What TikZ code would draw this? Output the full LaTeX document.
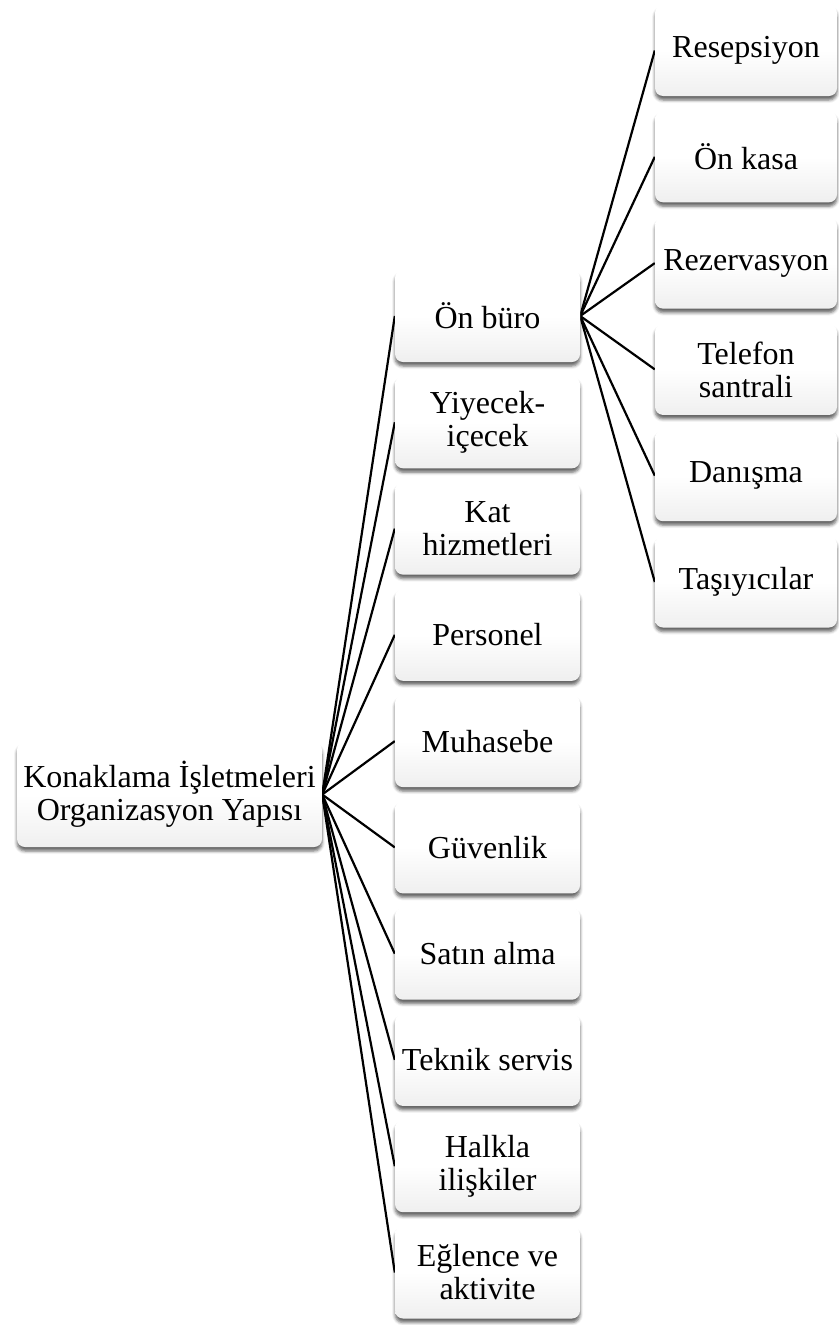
\documentclass[tikz,border=0pt]{standalone}
\usepackage{fontspec}
\setmainfont{Liberation Serif}
\usetikzlibrary{shadows.blur,backgrounds}

% soft white-to-grey fill for the boxes (0bp = bottom edge)
\pgfdeclareverticalshading{boxshade}{100bp}{%
  color(0bp)=(black!15); color(22bp)=(black!7); color(50bp)=(white); color(100bp)=(white)}

\tikzset{
  orgbox/.style={
    rounded corners=8pt, shading=boxshade, align=center,
    inner sep=0pt, font=\fontsize{32}{33}\selectfont,
    blur shadow={shadow xshift=0pt, shadow yshift=-4pt,
                 shadow blur radius=3pt, shadow opacity=60}},
  rootbox/.style={orgbox, minimum width=305pt, minimum height=105pt},
  midbox/.style={orgbox, minimum width=185pt, minimum height=92pt},
  leafbox/.style={orgbox, minimum width=182pt, minimum height=91pt},
  link/.style={line width=2.2pt, black}
}

\begin{document}
\begin{tikzpicture}[x=1pt, y=-1pt]
  \useasboundingbox (0,0) rectangle (838,1325);

  % root
  \node[rootbox] (root) at (169.5,794.5) {Konaklama İşletmeleri\\Organizasyon Yapısı};

  % departments
  \node[midbox] (m1)  at (487.5,316.0)  {Ön büro};
  \node[midbox] (m2)  at (487.5,422.3)  {Yiyecek-\\içecek};
  \node[midbox] (m3)  at (487.5,528.6)  {Kat\\hizmetleri};
  \node[midbox] (m4)  at (487.5,634.8)  {Personel};
  \node[midbox] (m5)  at (487.5,741.1)  {Muhasebe};
  \node[midbox] (m6)  at (487.5,847.4)  {Güvenlik};
  \node[midbox] (m7)  at (487.5,953.7)  {Satın alma};
  \node[midbox] (m8)  at (487.5,1059.9) {Teknik servis};
  \node[midbox] (m9)  at (487.5,1166.2) {Halkla\\ilişkiler};
  \node[midbox] (m10) at (487.5,1272.5) {Eğlence ve\\aktivite};

  % front office units
  \node[leafbox] (r1) at (746,50.5)  {Resepsiyon};
  \node[leafbox] (r2) at (746,156.8) {Ön kasa};
  \node[leafbox] (r3) at (746,263.1) {Rezervasyon};
  \node[leafbox] (r4) at (746,369.4) {Telefon\\santrali};
  \node[leafbox] (r5) at (746,475.7) {Danışma};
  \node[leafbox] (r6) at (746,582.0) {Taşıyıcılar};

  \begin{scope}[on background layer]
    \foreach \m in {m1,m2,m3,m4,m5,m6,m7,m8,m9,m10}
      \draw[link] (root.east) -- (\m.west);
    \foreach \r in {r1,r2,r3,r4,r5,r6}
      \draw[link] (m1.east) -- (\r.west);
  \end{scope}
\end{tikzpicture}
\end{document}
